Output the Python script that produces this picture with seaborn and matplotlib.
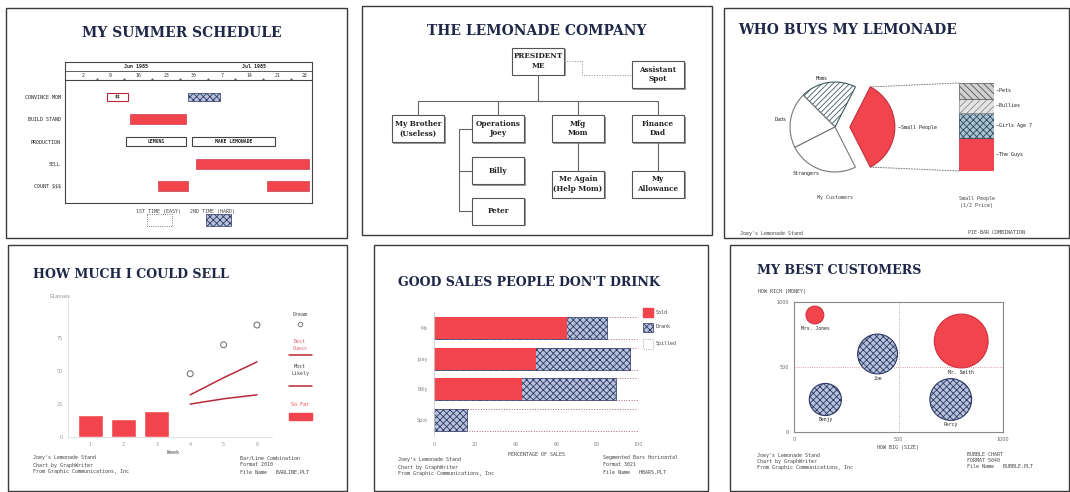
import matplotlib
matplotlib.use("Agg")
import numpy as np
import pandas as pd
import matplotlib.pyplot as plt
from matplotlib.patches import Rectangle, ConnectionPatch
import seaborn as sns

# ---------------- data ----------------
# Panel 1: summer schedule (day numbers counted from 1 June 1985)
gantt_rows = ["CONVINCE MOM", "BUILD STAND", "PRODUCTION", "SELL", "COUNT $$$"]
task_row = ["CONVINCE MOM", "CONVINCE MOM", "BUILD STAND", "PRODUCTION",
            "PRODUCTION", "SELL", "COUNT $$$", "COUNT $$$"]
task_start = [8, 28.5, 14, 13, 29.5, 30.5, 21, 48.5]
task_end = [13.5, 36.5, 28, 28, 50.5, 59, 28.5, 59]
task_kind = ["easy", "hard", "fill", "box", "box", "fill", "fill", "fill"]
task_text = ["$$", "", "", "LEMONS", "MAKE LEMONADE", "", "", ""]
week_ticks = [2, 9, 16, 23, 30, 37, 44, 51, 58]
week_labels = ["2", "9", "16", "23", "30", "7", "14", "21", "28"]
month_labels = ["Jun 1985", "Jul 1985"]
month_first = [1, 31]
month_last = [30, 61]

# Panel 2: org chart
org_names = ["PRESIDENT\nME", "Assistant\nSpot", "My Brother\n(Useless)",
             "Operations\nJoey", "Mfg\nMom", "Finance\nDad", "Billy", "Peter",
             "Me Again\n(Help Mom)", "My\nAllowance"]
org_parent = [None, 0, 0, 0, 0, 0, 3, 3, 4, 5]

# Panel 3: pie + bar
pie_labels = ["Small People", "Moms", "Dads", "Strangers"]
pie_values = [35, 20, 20, 25]
kid_labels = ["The Guys", "Girls Age 7", "Bullies", "Pets"]
kid_values = [38, 28, 16, 18]

# Panel 4: bar / line combination
weeks = [1, 2, 3, 4, 5, 6]
sold_weeks = [1, 2, 3]
sold_glasses = [17, 14, 20]
proj_weeks = [4, 5, 6]
best_guess = [32, 45, 57]
most_likely = [25, 29, 32]
dream = [48, 70, 85]

# Panel 5: segmented horizontal bars
sellers = ["Me", "Joey", "Billy", "Spot"]
pct_sold = [65, 50, 43, 0]
pct_drank = [20, 46, 46, 16]
pct_spilled = [15, 4, 11, 84]

# Panel 6: bubble chart
customers = ["Mrs. Jones", "Joe", "Mr. Smith", "Benjy", "Percy"]
cust_size = [100, 400, 800, 150, 750]
cust_rich = [900, 600, 700, 250, 250]
cust_glasses = [8, 40, 73, 26, 44]
cust_pays = ["cash", "credit", "cash", "credit", "credit"]

# ---------------- style ----------------
sns.set_theme(style="white")
plt.rcParams['font.family'] = ['DejaVu Sans']
plt.rcParams['hatch.linewidth'] = 0.6
plt.rcParams['text.parse_math'] = False

RED = '#f2444c'
DRED = '#b8283a'
NAVY = '#1f2748'
HFACE = '#b8c3da'
HEDGE = '#2c3766'
TITLE_TOP = dict(family='DejaVu Serif', fontweight='bold', color=NAVY, fontsize=10.0)
TITLE_BOT = dict(family='DejaVu Serif', fontweight='bold', color=NAVY, fontsize=9.1)
SMALL = dict(family='DejaVu Sans Mono', fontsize=3.6, color='#444444')

W, H = 1070, 492
fig = plt.figure(figsize=(W / 100, H / 100), dpi=100)
fig.patch.set_facecolor('white')


def px_axes(x0, y0, x1, y1, z=1):
    ax = fig.add_axes([x0 / W, 1 - y1 / H, (x1 - x0) / W, (y1 - y0) / H], zorder=z)
    ax.set_facecolor('none')
    return ax


canvas = px_axes(0, 0, W, H, z=0)
canvas.set_xlim(0, W)
canvas.set_ylim(H, 0)
canvas.axis('off')

# panel frames
for (x0, y0, x1, y1) in [(6, 8, 347, 238), (362, 6, 712, 235), (724, 8, 1069, 238),
                         (8, 245, 347, 491), (374, 245, 708, 491), (730, 245, 1069, 491)]:
    canvas.add_patch(Rectangle((x0, y0), x1 - x0, y1 - y0, fill=False,
                               edgecolor='#3a3a3a', lw=1.0))

# titles
canvas.text(182, 33, "MY SUMMER SCHEDULE", ha='center', va='center', **TITLE_TOP)
canvas.text(537, 31, "THE LEMONADE COMPANY", ha='center', va='center', **TITLE_TOP)
canvas.text(738, 30, "WHO BUYS MY LEMONADE", ha='left', va='center', **TITLE_TOP)
canvas.text(33, 275, "HOW MUCH I COULD SELL", ha='left', va='center', **TITLE_BOT)
canvas.text(398, 282, "GOOD SALES PEOPLE DON'T DRINK", ha='left', va='center', **TITLE_BOT)
canvas.text(757, 270, "MY BEST CUSTOMERS", ha='left', va='center', **TITLE_BOT)

footer_left = ["Joey's Lemonade Stand", "Chart by GraphWriter", "From Graphic Communications, Inc"]


def footer(x, y, lines, dy=7):
    for i, s in enumerate(lines):
        canvas.text(x, y + i * dy, s, ha='left', va='center', **SMALL)


# ================= Panel 1: Gantt =================
axg = px_axes(65, 62, 312, 203)
axg.set_xlim(-2.5, 59.8)
axg.set_ylim(4.76, -1.57)
rowpos = {r: i for i, r in enumerate(gantt_rows)}
for r, s, e, k, t in zip(task_row, task_start, task_end, task_kind, task_text):
    y = rowpos[r]
    if k == 'fill':
        axg.barh(y, e - s, left=s, height=0.46, color=RED, edgecolor=DRED, lw=0.4)
    elif k == 'box':
        axg.barh(y, e - s, left=s, height=0.40, color='white', edgecolor='#444', lw=0.8)
    elif k == 'easy':
        axg.barh(y, e - s, left=s, height=0.40, color='white', edgecolor=DRED, lw=0.8)
    else:
        axg.barh(y, e - s, left=s, height=0.40, color=HFACE, edgecolor=HEDGE,
                 lw=0.5, hatch='xxxxx')
    if t:
        axg.text((s + e) / 2, y, t, ha='center', va='center', fontsize=3.4,
                 color='#222', family='DejaVu Sans Mono', fontweight='bold')
axg.axhline(-0.76, color='#444', lw=0.8)
axg.axhline(-1.17, color='#444', lw=0.6)
xl = axg.get_xlim()
for lab, a, b in zip(month_labels, month_first, month_last):
    lo, hi = max(a - 0.5, xl[0]), min(b + 0.5, xl[1])
    axg.text((lo + hi) / 2, -1.38, lab, ha='center', va='center', fontsize=3.6,
             color='#222', family='DejaVu Sans Mono', fontweight='bold')
for d, lab in zip(week_ticks, week_labels):
    axg.text(d, -0.96, lab, ha='center', va='center', fontsize=3.5, color='#333',
             family='DejaVu Sans Mono')
    axg.plot(d + 3.5, -0.8, marker='.', ms=1, color='#444')
axg.set_xticks([])
axg.set_yticks(range(len(gantt_rows)))
axg.set_yticklabels(gantt_rows, fontsize=3.6, family='DejaVu Sans Mono', color='#222')
axg.tick_params(axis='y', length=0, pad=3)
for sp in axg.spines.values():
    sp.set_color('#444')
    sp.set_linewidth(0.8)

canvas.text(185, 211, "1ST TIME (EASY)   2ND TIME (HARD)", ha='center', va='center', **SMALL)
canvas.add_patch(Rectangle((147, 214), 25, 12, fill=False, edgecolor='#555', lw=0.6, ls=':'))
canvas.add_patch(Rectangle((206, 214), 25, 12, facecolor=HFACE, edgecolor=HEDGE, lw=0.5,
                           hatch='xxxxx'))

# ================= Panel 2: org chart =================
org_col = [1.5, 3, 0, 1, 2, 3, 1, 1, 2, 3]
org_lvl = [0, 0.5, 2.5, 2.5, 2.5, 2.5, 4.06, 5.56, 4.56, 4.56]
axo = px_axes(362, 34, 712, 236)
axo.set_xlim((362 - 418) / 80, (712 - 418) / 80)
axo.set_ylim((236 - 61) / 27, (34 - 61) / 27)
axo.axis('off')
bw, bh = 0.66, 1.0
lc = '#666666'
bus = 1.48
axo.plot([org_col[0], org_col[0]], [org_lvl[0] + bh / 2, bus], color=lc, lw=0.8)
lvl2 = [i for i, p in enumerate(org_parent) if p == 0 and i != 1]
axo.plot([min(org_col[i] for i in lvl2), max(org_col[i] for i in lvl2)], [bus, bus], color=lc, lw=0.8)
for i in lvl2:
    axo.plot([org_col[i]] * 2, [bus, org_lvl[i] - bh / 2], color=lc, lw=0.8)
ax_mid = (org_col[0] + bw / 2 + org_col[1] - bw / 2) / 2 - 0.2
axo.plot([org_col[0] + bw / 2, ax_mid, ax_mid, org_col[1] - bw / 2],
         [org_lvl[0], org_lvl[0], org_lvl[1], org_lvl[1]], color='#888', lw=0.7, ls=':')
kids3 = [i for i, p in enumerate(org_parent) if p == 3]
bx = org_col[3] - bw / 2 - 0.16
axo.plot([org_col[3] - bw / 2, bx, bx], [org_lvl[3], org_lvl[3], max(org_lvl[i] for i in kids3)],
         color=lc, lw=0.8)
for i in kids3:
    axo.plot([bx, org_col[i] - bw / 2], [org_lvl[i]] * 2, color=lc, lw=0.8)
for i, p in enumerate(org_parent):
    if p in (4, 5):
        axo.plot([org_col[i]] * 2, [org_lvl[p] + bh / 2, org_lvl[i] - bh / 2], color=lc, lw=0.8)
for i, name in enumerate(org_names):
    axo.add_patch(Rectangle((org_col[i] - bw / 2 + 0.02, org_lvl[i] - bh / 2 + 0.06), bw, bh,
                            facecolor='#9a9a9a', edgecolor='none'))
    axo.add_patch(Rectangle((org_col[i] - bw / 2, org_lvl[i] - bh / 2), bw, bh,
                            facecolor='white', edgecolor='#555', lw=0.8))
    axo.text(org_col[i], org_lvl[i], name, ha='center', va='center', fontsize=5.2,
             family='DejaVu Serif', fontweight='bold', color='#222', linespacing=1.3)

# ================= Panel 3: pie + bar =================
axp = px_axes(765, 57, 905, 197)
lim = 70 / 45
axp.axis('off')
pie_colors = [RED, 'white', 'white', 'white']
explode = [0.33, 0, 0, 0]
wedges, texts = axp.pie(pie_values, startangle=-63, counterclock=True, colors=pie_colors,
                        explode=explode, labels=["\u2013" + pie_labels[0]] + pie_labels[1:],
                        labeldistance=1.08,
                        wedgeprops=dict(edgecolor='#777', linewidth=0.8),
                        textprops=dict(fontsize=3.6, family='DejaVu Sans Mono', color='#222'))
wedges[0].set_edgecolor('#c03040')
wedges[1].set_hatch('//////')
wedges[1].set_edgecolor('#3f5a5c')
axp.set_xlim(-lim, lim)
axp.set_ylim(-lim, lim)

axb = px_axes(959, 83, 994, 171)
axb.set_xlim(-0.5, 0.5)
axb.set_ylim(0, sum(kid_values))
axb.axis('off')
kid_face = [RED, '#a9c4cf', '#e4e4e4', '#d0d0d0']
kid_edge = ['#c03040', '#2f4660', '#8a8a8a', '#555555']
kid_hatch = [None, 'xxxxx', '/////', '\\\\\\\\\\']
bottom = 0
for lab, v, fc, ec, ht in zip(kid_labels, kid_values, kid_face, kid_edge, kid_hatch):
    axb.bar(0, v, bottom=bottom, width=1, color=fc, edgecolor=ec, hatch=ht, lw=0.5)
    axb.text(0.56, bottom + v / 2, "\u2013" + lab, ha='left', va='center',
             fontsize=3.6, family='DejaVu Sans Mono', color='#222', clip_on=False)
    bottom += v
w0 = wedges[0]
cx, cy = w0.center
for th, yb in [(w0.theta2, sum(kid_values)), (w0.theta1, 0)]:
    pt = (cx + w0.r * np.cos(np.radians(th)), cy + w0.r * np.sin(np.radians(th)))
    con = ConnectionPatch(xyA=pt, coordsA=axp.transData, xyB=(-0.5, yb), coordsB=axb.transData,
                          color='#777', lw=0.7, ls=':')
    fig.add_artist(con)
canvas.text(835, 197, "My Customers", ha='center', va='center', **SMALL)
canvas.text(977, 202, "Small People\n(1/2 Price)", ha='center', va='center', linespacing=1.4, **SMALL)
canvas.text(740, 233, footer_left[0], ha='left', va='center', **SMALL)
canvas.text(968, 233, "PIE-BAR COMBINATION", ha='left', va='center', **SMALL)

# ================= Panel 4: bar/line =================
ax4 = px_axes(68, 300, 272, 437)
df_sold = pd.DataFrame({"week": sold_weeks, "glasses": sold_glasses})
sns.barplot(data=df_sold, x="week", y="glasses", native_scale=True, color=RED,
            saturation=1, width=0.75, errorbar=None, ax=ax4)
sns.lineplot(x=proj_weeks, y=best_guess, color=DRED, lw=1.1, ax=ax4)
sns.lineplot(x=proj_weeks, y=most_likely, color=DRED, lw=1.1, ax=ax4)
sns.scatterplot(x=proj_weeks, y=dream, s=18, color='#888', ax=ax4)
ax4.collections[-1].set_facecolor('none')
ax4.collections[-1].set_edgecolor('#777')
ax4.collections[-1].set_linewidth(0.8)
ax4.set_xlim(0.34, 6.45)
ax4.set_ylim(0, 104)
ax4.set_xticks(weeks)
ax4.set_xticklabels([str(w) for w in weeks], fontsize=3.5, color='#999')
ax4.set_yticks([0, 25, 50, 75])
ax4.set_yticklabels(["0", "25", "50", "75"], fontsize=3.5, color='#999')
ax4.tick_params(length=1.5, width=0.4, pad=2, colors='#bbb', labelcolor='#999')
ax4.set_xlabel("")
ax4.set_ylabel("")
for sp in ['top', 'right']:
    ax4.spines[sp].set_visible(False)
for sp in ['left', 'bottom']:
    ax4.spines[sp].set_color('#dddddd')
    ax4.spines[sp].set_linewidth(0.6)
canvas.text(60, 297, "Glasses", ha='center', va='center', fontsize=3.6, color='#888',
            family='DejaVu Sans Mono')
canvas.text(173, 452, "Week", ha='center', va='center', **SMALL)
canvas.text(300, 315, "Dream", ha='center', va='center', **SMALL)
canvas.plot(300, 324, 'o', mfc='none', mec='#777', ms=3.2, mew=0.7)
canvas.text(300, 345, "Best\nGuess", ha='center', va='center', fontsize=3.6,
            color='#e06070', family='DejaVu Sans Mono', linespacing=1.3)
canvas.plot([289, 312], [355, 355], color=DRED, lw=1.1)
canvas.text(300, 370, "Most\nLikely", ha='center', va='center', linespacing=1.3, **SMALL)
canvas.plot([289, 312], [386, 386], color=DRED, lw=1.1)
canvas.text(300, 405, "So Far", ha='center', va='center', fontsize=3.6, color=RED,
            family='DejaVu Sans Mono')
canvas.add_patch(Rectangle((289, 413), 23, 7, color=RED))
footer(33, 458, footer_left)
footer(240, 458, ["Bar/Line Combination", "Format 2010", "File Name   BARLINE.PLT"])

# ================= Panel 5: segmented horizontal bars =================
ax5 = px_axes(434, 312, 638, 436)
df5 = pd.DataFrame({"seller": sellers, "sold": pct_sold, "drank": pct_drank,
                    "spilled": pct_spilled})
df5["sold_drank"] = df5["sold"] + df5["drank"]
df5["total"] = df5["sold_drank"] + df5["spilled"]
sns.barplot(data=df5, y="seller", x="total", orient='h', color='white', saturation=1,
            edgecolor='#b06070', linewidth=0.7, linestyle=':', width=0.72, errorbar=None, ax=ax5)
sns.barplot(data=df5, y="seller", x="sold_drank", orient='h', color=HFACE, saturation=1,
            edgecolor=HEDGE, linewidth=0.5, hatch='xxxxx', width=0.72, errorbar=None, ax=ax5)
sns.barplot(data=df5, y="seller", x="sold", orient='h', color=RED, saturation=1,
            edgecolor='none', linewidth=0, width=0.72, errorbar=None, ax=ax5)
ax5.set_xlim(0, 100)
ax5.set_ylim(3.52, -0.52)
ax5.set_xticks([0, 20, 40, 60, 80, 100])
ax5.set_xticklabels(["0", "20", "40", "60", "80", "100"], fontsize=3.5, color='#888')
ax5.set_yticks(range(len(sellers)))
ax5.set_yticklabels(sellers, fontsize=3.5, color='#888')
ax5.tick_params(length=1.5, width=0.4, pad=3, colors='#bbb', labelcolor='#888')
ax5.set_xlabel("")
ax5.set_ylabel("")
for sp in ['top', 'right', 'bottom']:
    ax5.spines[sp].set_visible(False)
ax5.spines['left'].set_color('#cccccc')
ax5.spines['left'].set_linewidth(0.6)
canvas.text(536, 454, "PERCENTAGE OF SALES", ha='center', va='center', **SMALL)
canvas.add_patch(Rectangle((643, 308), 10, 9, color=RED))
canvas.add_patch(Rectangle((643, 323), 10, 9, facecolor=HFACE, edgecolor=HEDGE, lw=0.5, hatch='xxxxx'))
canvas.add_patch(Rectangle((643, 339), 10, 10, fill=False, edgecolor='#999', lw=0.6, ls=':'))
for y, s in [(312, "Sold"), (327, "Drank"), (344, "Spilled")]:
    canvas.text(656, y, s, ha='left', va='center', **SMALL)
footer(398, 460, footer_left)
footer(603, 458, ["Segmented Bars Horizontal", "Format 3021", "File Name   HBARS.PLT"])

# ================= Panel 6: bubble chart =================
ax6 = px_axes(794, 302, 1003, 432)
df6 = pd.DataFrame({"customer": customers, "size": cust_size, "rich": cust_rich,
                    "glasses": cust_glasses, "pays": cust_pays})
ax6.axvline(500, color='#999', lw=0.6, ls=':', zorder=0)
ax6.axhline(500, color='#d08080', lw=0.6, ls=':', zorder=0)
smax = 1500
for grp, fc, ec, ht in [("cash", RED, '#d03040', None), ("credit", HFACE, HEDGE, 'xxxxx')]:
    sub = df6[df6.pays == grp]
    sns.scatterplot(data=sub, x="size", y="rich", size="glasses", sizes=(0, smax),
                    size_norm=(0, max(cust_glasses)), color=fc, edgecolor=ec, linewidth=0.8,
                    legend=False, ax=ax6, zorder=3)
    if ht:
        ax6.collections[-1].set_hatch(ht)
for _, r in df6.iterrows():
    rad = np.sqrt(smax * r.glasses / max(cust_glasses)) / 2
    ax6.annotate(r.customer, (r["size"], r.rich), xytext=(0, -rad - 3), textcoords='offset points',
                 ha='center', va='center', fontsize=3.4, family='DejaVu Sans Mono',
                 color='#222', annotation_clip=False)
ax6.set_xlim(0, 1000)
ax6.set_ylim(0, 1000)
ax6.set_xticks([0, 500, 1000])
ax6.set_xticklabels(["0", "500", "1000"], fontsize=3.5, color='#666')
ax6.set_yticks([0, 500, 1000])
ax6.set_yticklabels(["0", "500", "1000"], fontsize=3.5, color='#666')
ax6.tick_params(length=1.5, width=0.4, pad=2, colors='#888', labelcolor='#666')
ax6.set_xlabel("")
ax6.set_ylabel("")
for sp in ax6.spines.values():
    sp.set_color('#888')
    sp.set_linewidth(0.8)
canvas.text(758, 292, "HOW RICH (MONEY)", ha='left', va='center', **SMALL)
canvas.text(898, 448, "HOW BIG (SIZE)", ha='center', va='center', **SMALL)
footer(757, 455, footer_left, dy=6)
footer(967, 455, ["BUBBLE CHART", "FORMAT 5040", "File Name   BUBBLE.PLT"], dy=6)

fig.savefig("out.png", dpi=100, facecolor='white')
